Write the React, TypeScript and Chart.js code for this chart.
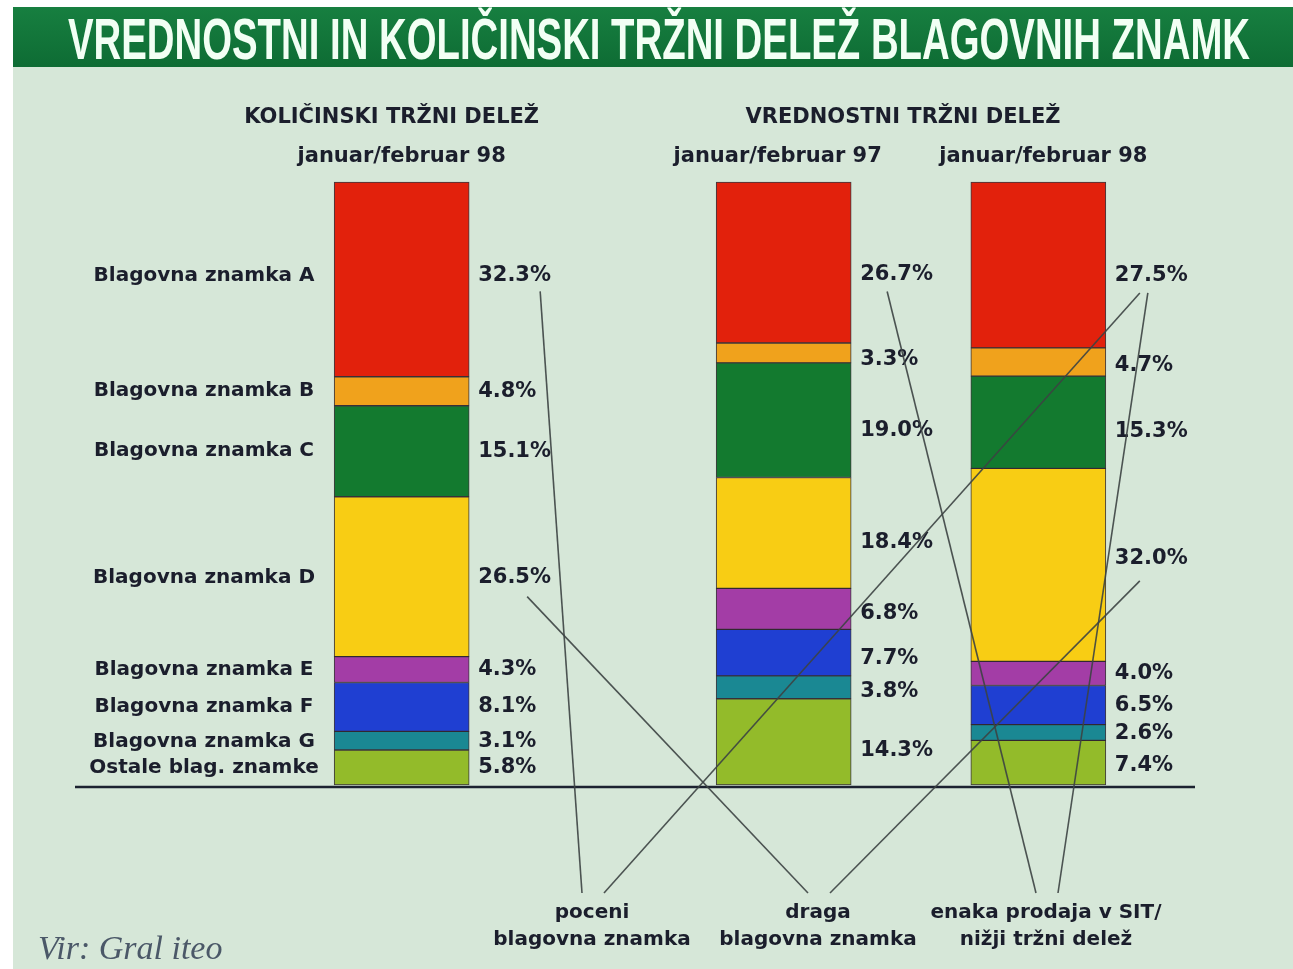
import React, { useEffect, useRef } from 'react';
import { Chart, registerables } from 'chart.js';

Chart.register(...registerables);

const W = 1293;
const H = 969;

const TITLE = 'VREDNOSTNI IN KOLIČINSKI TRŽNI DELEŽ BLAGOVNIH ZNAMK';
const BRANDS = [
  'Blagovna znamka A',
  'Blagovna znamka B',
  'Blagovna znamka C',
  'Blagovna znamka D',
  'Blagovna znamka E',
  'Blagovna znamka F',
  'Blagovna znamka G',
  'Ostale blag. znamke',
];
const BRAND_COLORS = ['#e2210c', '#f0a21c', '#137a2f', '#f8cd14', '#a33da6', '#1f3fd2', '#1a8893', '#93bb2a'];
// category slots on the x axis (empty slots give the gaps between the columns)
const SLOTS = ['Količinski 98', '', '', 'Vrednostni 97', '', 'Vrednostni 98'];
const VOLUME_98 = [32.3, 4.8, 15.1, 26.5, 4.3, 8.1, 3.1, 5.8];
const VALUE_97 = [26.7, 3.3, 19.0, 18.4, 6.8, 7.7, 3.8, 14.3];
const VALUE_98 = [27.5, 4.7, 15.3, 32.0, 4.0, 6.5, 2.6, 7.4];
const SERIES = [VOLUME_98, VALUE_97, VALUE_98];
const SERIES_SLOTS = [0, 3, 5];
const PERIOD_LABELS = ['januar/februar 98', 'januar/februar 97', 'januar/februar 98'];
const GROUP_HEADERS = ['KOLIČINSKI TRŽNI DELEŽ', 'VREDNOSTNI TRŽNI DELEŽ'];
const NOTES = [
  ['poceni', 'blagovna znamka'],
  ['draga', 'blagovna znamka'],
  ['enaka prodaja v SIT/', 'nižji tržni delež'],
];
// [series index, brand index, note index]
const CALLOUTS = [
  [0, 0, 0],
  [2, 0, 0],
  [0, 3, 1],
  [2, 3, 1],
  [1, 0, 2],
  [2, 0, 2],
];
const SOURCE = 'Vir: Gral iteo';

const fmt = (v: number) => v.toFixed(1) + '%';

const TEXT = '#1b1e2c';
const BOLD = (s: number) => `bold ${s}px "DejaVu Sans", "Liberation Sans", sans-serif`;

// small vertical nudges of the percentage labels (layout only)
const NUDGE = [
  [-4, 0, 0, 1, 0, 0, 1, 0],
  [12, 7, 10, 10, 5, 6, 4, 9],
  [11, 4, 9, -6, 0, 0, 1, 3],
];

function segCenter(chart: any, brand: number, seriesIdx: number) {
  const dsIndex = BRANDS.length - 1 - brand;
  const el = chart.getDatasetMeta(dsIndex).data[SERIES_SLOTS[seriesIdx]] as any;
  return { x: el.x, right: el.x + el.width / 2, y: (el.y + el.base) / 2 };
}

const deco = {
  id: 'deco',
  beforeDraw(chart: any) {
    const ctx = chart.ctx as CanvasRenderingContext2D;
    ctx.save();
    ctx.fillStyle = '#ffffff';
    ctx.fillRect(0, 0, W, H);
    ctx.fillStyle = '#d6e7d8';
    ctx.fillRect(13, 67, W - 13, H - 67);
    const g = ctx.createLinearGradient(0, 7, 0, 67);
    g.addColorStop(0, '#177f40');
    g.addColorStop(1, '#0e6c34');
    ctx.fillStyle = g;
    ctx.fillRect(13, 7, W - 13, 60);
    ctx.font = 'bold 57px "Liberation Sans", "DejaVu Sans", sans-serif';
    const tw = ctx.measureText(TITLE).width;
    ctx.translate(68, 59);
    ctx.scale(1182 / tw, 1);
    ctx.fillStyle = '#f2fff4';
    ctx.textBaseline = 'alphabetic';
    ctx.textAlign = 'left';
    ctx.fillText(TITLE, 0, 0);
    ctx.restore();
  },
  afterDatasetsDraw(chart: any) {
    const ctx = chart.ctx as CanvasRenderingContext2D;
    const area = chart.chartArea;
    ctx.save();
    ctx.fillStyle = TEXT;
    ctx.textBaseline = 'middle';

    // baseline
    ctx.strokeStyle = '#1c2230';
    ctx.lineWidth = 2.5;
    ctx.beginPath();
    ctx.moveTo(75, area.bottom + 2);
    ctx.lineTo(1195, area.bottom + 2);
    ctx.stroke();

    // headers
    const centers = SERIES_SLOTS.map((s) => chart.scales.x.getPixelForValue(s));
    ctx.textAlign = 'center';
    ctx.font = BOLD(21);
    ctx.fillText(GROUP_HEADERS[0], centers[0] - 10, 118);
    ctx.fillText(GROUP_HEADERS[1], (centers[1] + centers[2]) / 2 - 8, 118);
    ctx.font = BOLD(21);
    PERIOD_LABELS.forEach((p, i) => ctx.fillText(p, centers[i] + (i === 1 ? -6 : i === 2 ? 5 : 0), 157));

    // brand labels on the left, next to first column
    ctx.font = BOLD(20);
    BRANDS.forEach((b, i) => {
      const c = segCenter(chart, i, 0);
      ctx.fillText(b, 204, c.y + NUDGE[0][i]);
    });

    // percentage labels
    ctx.textAlign = 'left';
    ctx.font = BOLD(21);
    const labelPos: { x: number; y: number }[][] = [];
    SERIES.forEach((vals, si) => {
      labelPos[si] = [];
      vals.forEach((v, bi) => {
        const c = segCenter(chart, bi, si);
        const x = c.right + 9;
        const y = c.y + NUDGE[si][bi];
        labelPos[si][bi] = { x, y };
        ctx.fillText(fmt(v), x, y);
      });
    });

    // notes
    const noteX = [592, 818, 1046];
    ctx.textAlign = 'center';
    ctx.font = BOLD(20);
    NOTES.forEach((n, i) => {
      ctx.fillText(n[0], noteX[i], 913);
      ctx.fillText(n[1], noteX[i], 940);
    });

    // callout lines
    const anchorDx = [62, 25, 49, 25, 27, 33];
    const anchorDy = [16, 17, 19, 22, 17, 17];
    const seen: Record<number, number> = {};
    ctx.strokeStyle = 'rgba(60,66,66,0.9)';
    ctx.lineWidth = 1.6;
    CALLOUTS.forEach(([si, bi, ni], k) => {
      const p = labelPos[si][bi];
      const sx = p.x + anchorDx[k];
      const sy = p.y + anchorDy[k];
      const side = seen[ni] || 0;
      seen[ni] = side + 1;
      const tx = noteX[ni] + (side === 0 ? -10 : 12);
      ctx.beginPath();
      ctx.moveTo(sx, sy);
      ctx.lineTo(tx, 893);
      ctx.stroke();
    });

    // source
    ctx.textAlign = 'left';
    ctx.fillStyle = '#4b5868';
    ctx.font = 'italic 34px "Liberation Serif", "DejaVu Serif", serif';
    ctx.fillText(SOURCE, 38, 950);
    ctx.restore();
  },
};

export default function App() {
  const ref = useRef<HTMLCanvasElement | null>(null);
  useEffect(() => {
    if (!ref.current) return;
    const datasets = BRANDS.map((b, i) => ({ b, i }))
      .reverse()
      .map(({ b, i }) => ({
        label: b,
        data: SLOTS.map((_, s) => {
          const k = SERIES_SLOTS.indexOf(s);
          return k >= 0 ? SERIES[k][i] : null;
        }),
        backgroundColor: BRAND_COLORS[i],
        borderColor: 'rgba(35,25,35,0.85)',
        borderWidth: 1,
        borderSkipped: false,
        barThickness: 135,
        clip: false,
      }));
    const chart = new Chart(ref.current, {
      type: 'bar',
      data: { labels: SLOTS, datasets: datasets as any },
      options: {
        responsive: false,
        animation: false,
        devicePixelRatio: 1,
        layout: { padding: { left: 338, right: 191, top: 182, bottom: 184 } },
        plugins: {
          legend: { display: false },
          tooltip: { enabled: false },
          title: { display: false },
        },
        scales: {
          x: { stacked: true, display: false },
          y: { stacked: true, display: false, min: 0, max: 100 },
        },
      },
      plugins: [deco],
    });
    return () => chart.destroy();
  }, []);
  return (
    <div style={{ position: 'fixed', left: 0, top: 0, width: W, height: H }}>
      <canvas ref={ref} width={W} height={H} style={{ width: W, height: H, display: 'block' }} />
    </div>
  );
}
